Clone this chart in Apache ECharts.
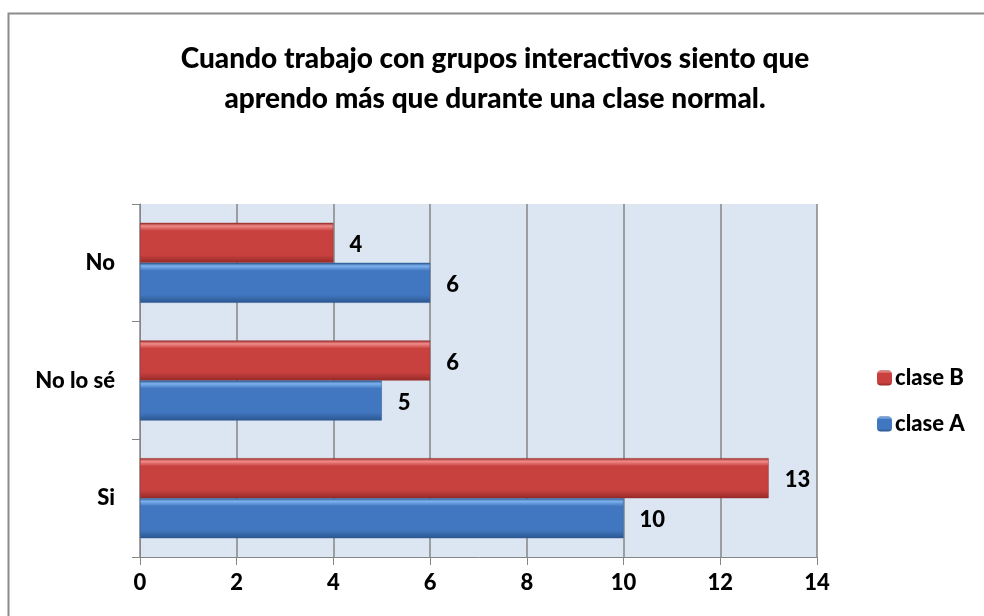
<!DOCTYPE html>
<html>
<head>
<meta charset="utf-8">
<script src="https://cdn.jsdelivr.net/npm/echarts@6/dist/echarts.min.js"></script>
<style>
  html, body { margin: 0; padding: 0; background: #fff; }
  #chart { width: 984px; height: 616px; }
</style>
</head>
<body>
<div id="chart"></div>
<script>
var categories = ['Si', 'No lo sé', 'No']
var claseA = [10, 5, 6]
var claseB = [13, 6, 4]
var xTicks = [0, 2, 4, 6, 8, 10, 12, 14]

var FONT = 'Lato'
var WEIGHT = 900

function bevel (light, mid, dark) {
  return new echarts.graphic.LinearGradient(0, 0, 0, 1, [
    { offset: 0, color: dark },
    { offset: 0.08, color: light },
    { offset: 0.2, color: mid },
    { offset: 0.8, color: mid },
    { offset: 1, color: dark }
  ])
}

var labelStyle = {
  show: true,
  position: 'right',
  distance: 16,
  offset: [0, 2],
  fontFamily: FONT,
  fontSize: 22,
  fontWeight: WEIGHT,
  color: '#000'
}

var chart = echarts.init(document.getElementById('chart'))

var option = {
  backgroundColor: '#fff',
  animation: false,
  title: {
    text: 'Cuando trabajo con grupos interactivos siento que\naprendo más que durante una clase normal.',
    left: 490,
    textAlign: 'center',
    top: 34,
    textStyle: {
      fontFamily: FONT,
      fontSize: 28,
      fontWeight: WEIGHT,
      lineHeight: 40,
      color: '#000'
    }
  },
  legend: {
    orient: 'vertical',
    left: 872,
    top: 362,
    itemWidth: 15,
    itemHeight: 15,
    itemGap: 24,
    itemStyle: { borderWidth: 0 },
    data: ['clase B', 'clase A'],
    textStyle: {
      fontFamily: FONT,
      fontSize: 22,
      fontWeight: WEIGHT,
      color: '#000',
      padding: [0, 0, 0, -2]
    }
  },
  grid: {
    left: 140,
    right: 167,
    top: 204,
    bottom: 59,
    show: true,
    backgroundColor: '#dce6f2',
    borderWidth: 0
  },
  xAxis: {
    type: 'value',
    min: 0,
    max: 14,
    interval: 2,
    axisLine: { show: true, lineStyle: { color: '#868686', width: 1 } },
    axisTick: { show: true, length: 8, lineStyle: { color: '#868686' } },
    splitLine: { show: true, lineStyle: { color: '#868686', width: 1.5 } },
    axisLabel: {
      margin: 15,
      fontFamily: FONT,
      fontSize: 22,
      fontWeight: WEIGHT,
      color: '#000',
      formatter: function (v) { return xTicks.indexOf(v) >= 0 ? String(v) : '' }
    }
  },
  yAxis: {
    type: 'category',
    data: categories,
    axisLine: { show: true, lineStyle: { color: '#868686', width: 1 } },
    axisTick: { show: true, length: 8, lineStyle: { color: '#868686' } },
    axisLabel: {
      margin: 25,
      fontFamily: FONT,
      fontSize: 22,
      fontWeight: WEIGHT,
      color: '#000'
    }
  },
  series: [
    {
      name: 'clase B',
      type: 'bar',
      data: claseB,
      barWidth: 40,
      barGap: '0%',
      itemStyle: {
        color: bevel('#f08a88', '#c8413f', '#962a28'),
        borderColor: '#962a28',
        borderWidth: 0.5
      },
      label: labelStyle
    },
    {
      name: 'clase A',
      type: 'bar',
      data: claseA,
      barWidth: 40,
      barGap: '0%',
      itemStyle: {
        color: bevel('#7db2ee', '#4177c0', '#2b5690'),
        borderColor: '#2b5690',
        borderWidth: 0.5
      },
      label: labelStyle
    }
  ],
  graphic: [
    {
      type: 'rect',
      shape: { x: 8.5, y: 13.5, width: 1000, height: 700 },
      style: { fill: 'none', stroke: '#8c8c8c', lineWidth: 2 },
      silent: true
    }
  ]
}

chart.setOption(option)
</script>
</body>
</html>
